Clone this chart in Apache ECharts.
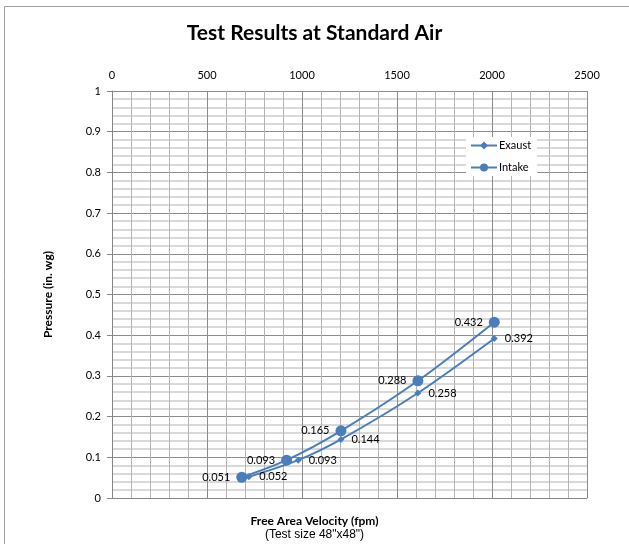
<!DOCTYPE html>
<html><head><meta charset="utf-8">
<script src="https://cdn.jsdelivr.net/npm/echarts@6/dist/echarts.min.js"></script>
<style>html,body{margin:0;padding:0;background:#fff}#c{width:629px;height:544px}</style>
</head><body><div id="c"></div>
<script>
const exaustX = [720, 980, 1205, 1610, 2012];
const exaustY = [0.052, 0.093, 0.144, 0.258, 0.392];
const intakeX = [683, 919, 1205, 1610, 2012];
const intakeY = [0.051, 0.093, 0.165, 0.288, 0.432];
const seriesNames = ['Exaust', 'Intake'];
const titleText = 'Test Results at Standard Air';
const xName = 'Free Area Velocity (fpm)';
const xSub = '(Test size 48"x48")';
const yName = 'Pressure (in. wg)';

const chart = echarts.init(document.getElementById('c'), null, {renderer: 'canvas'});
const font = 'Lato, "Open Sans", sans-serif';
const blue = '#4A7EBB';
const pairs = (xs, ys) => xs.map((x, i) => [x, ys[i]]);
chart.setOption({
  animation: false,
  backgroundColor: '#fff',
  graphic: [{type: 'rect', shape: {x: 4.5, y: 6.5, width: 640, height: 560}, style: {fill: 'none', stroke: '#a0a0a0', lineWidth: 1}, z: 100},
    {type: 'text', left: 'center', top: 515, style: {text: xName, font: 'bold 12px Lato, sans-serif', fill: '#000'}},
    {type: 'text', left: 'center', top: 529, style: {text: xSub, font: '12px "Liberation Sans", Arial, sans-serif', fill: '#000'}}],
  title: {text: titleText, left: 'center', top: 18, textStyle: {fontFamily: font, fontWeight: 'bold', fontSize: 21, color: '#000'}},
  grid: {left: 112, right: 42, top: 91, bottom: 46, containLabel: false},
  legend: {
    orient: 'vertical', left: 466, top: 137, itemWidth: 26, itemHeight: 10, itemGap: 11,
    backgroundColor: '#fff', padding: [3, 6, 3, 4],
    textStyle: {fontFamily: font, fontSize: 11, color: '#000', padding: [0, 0, 0, -3]},
    data: seriesNames
  },
  xAxis: {
    type: 'value', position: 'top', min: 0, max: 2500, interval: 500,
    axisLine: {show: true, lineStyle: {color: '#868686'}},
    axisTick: {show: true, length: 5, lineStyle: {color: '#868686'}},
    axisLabel: {fontFamily: font, fontSize: 11, color: '#000', margin: 10, formatter: v => String(v)},
    splitLine: {show: true, lineStyle: {color: '#8c8c8c', width: 1}},
    minorTick: {show: false, splitNumber: 5},
    minorSplitLine: {show: true, lineStyle: {color: '#b4b4b4', width: 1}}
  },
  yAxis: {
    type: 'value', min: 0, max: 1, interval: 0.1,
    name: yName, nameLocation: 'middle', nameGap: 58, nameRotate: 90,
    nameTextStyle: {fontFamily: font, fontWeight: 'bold', fontSize: 12, color: '#000'},
    axisLine: {show: true, lineStyle: {color: '#868686'}},
    axisTick: {show: true, length: 5, lineStyle: {color: '#868686'}},
    axisLabel: {fontFamily: font, fontSize: 11, color: '#000', margin: 11},
    splitLine: {show: true, lineStyle: {color: '#8c8c8c', width: 1}},
    minorTick: {show: false, splitNumber: 5},
    minorSplitLine: {show: true, lineStyle: {color: '#d9d9d9', width: 2}}
  },
  series: [
    {name: seriesNames[0], type: 'line', data: pairs(exaustX, exaustY), smooth: 0.3,
     symbol: 'diamond', symbolSize: 7, color: blue, lineStyle: {width: 2, color: blue},
     itemStyle: {color: blue},
     label: {show: true, position: 'right', distance: 7, fontFamily: font, fontSize: 11, color: '#000'}},
    {name: seriesNames[1], type: 'line', data: pairs(intakeX, intakeY), smooth: 0.3,
     symbol: 'circle', symbolSize: 11, color: blue, lineStyle: {width: 2, color: blue},
     itemStyle: {color: blue},
     label: {show: true, position: 'left', distance: 6, fontFamily: font, fontSize: 11, color: '#000'}}
  ]
});
</script></body></html>
